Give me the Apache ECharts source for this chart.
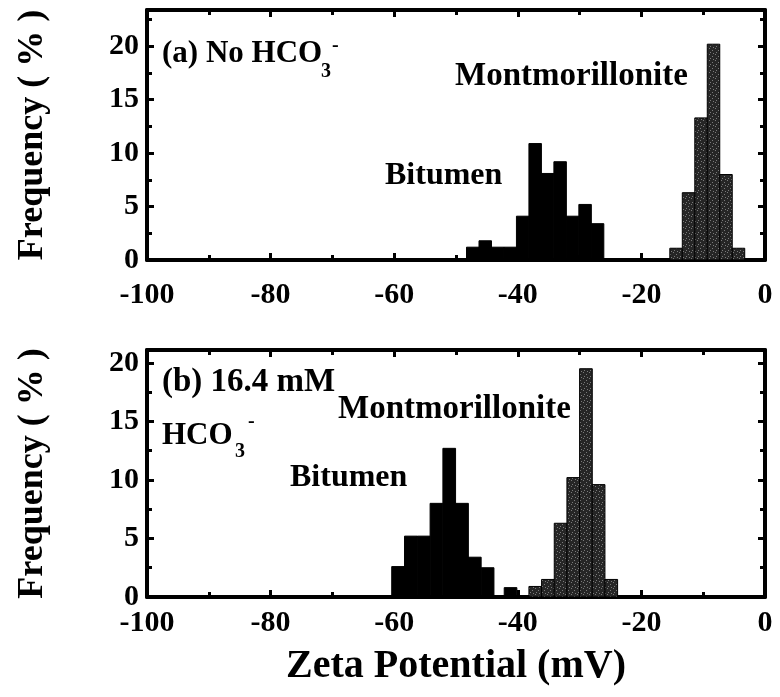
<!DOCTYPE html>
<html>
<head>
<meta charset="utf-8">
<script src="https://cdn.jsdelivr.net/npm/echarts@6/dist/echarts.min.js"></script>
<style>
  html, body { margin: 0; padding: 0; background: #fff; }
  #chart { width: 780px; height: 697px; }
</style>
</head>
<body>
<div id="chart"></div>
<script>
// panel (a): no HCO3-
const bitumenA_start = [-48.3, -46.28, -44.26, -42.24, -40.22, -38.2, -36.18, -34.16, -32.14, -30.12, -28.1];
const bitumenA_freq  = [1.2, 1.8, 1.2, 1.2, 4.1, 10.9, 8.1, 9.2, 4.1, 5.2, 3.4];
const montA_start = [-15.4, -13.38, -11.36, -9.34, -7.32, -5.3];
const montA_freq  = [1.1, 6.3, 13.3, 20.2, 8.0, 1.1];
const binWidthA = 2.02;

// panel (b): 16.4 mM HCO3-
const bitumenB_start = [-60.4, -58.33, -56.26, -54.19, -52.12, -50.05, -47.98, -45.91, -42.2];
const bitumenB_freq  = [2.6, 5.2, 5.2, 8.0, 12.7, 8.0, 3.4, 2.5, 0.8];
const montB_start = [-38.2, -36.15, -34.1, -32.05, -30.0, -27.95, -25.9];
const montB_freq  = [0.9, 1.5, 6.3, 10.2, 19.5, 9.6, 1.5];
const binWidthB = 2.05;

const xTicks = [-100, -80, -60, -40, -20, 0];
const yTicks = [0, 5, 10, 15, 20];

const FONT = "'Liberation Serif', 'Times New Roman', serif";

// speckled dark gray fill for montmorillonite
const pat = document.createElement('canvas');
pat.width = 6; pat.height = 6;
const pc = pat.getContext('2d');
pc.fillStyle = '#262626';
pc.fillRect(0, 0, 6, 6);
pc.fillStyle = '#7a7a7a';
[[1, 0], [4, 2], [2, 4], [5, 5]].forEach(p => pc.fillRect(p[0], p[1], 1, 1));

function toBins(starts, freqs, w) {
  return starts.map((s, i) => [s, s + w, freqs[i]]);
}

function histRender(fill) {
  return function (params, api) {
    const p0 = api.coord([api.value(0), api.value(2)]);
    const p1 = api.coord([api.value(1), 0]);
    return {
      type: 'rect',
      shape: { x: p0[0], y: p0[1], width: p1[0] - p0[0], height: p1[1] - p0[1] },
      style: { fill: fill, stroke: '#000', lineWidth: 1 }
    };
  };
}

const grids = [
  { left: 147, right: 15, top: 10, height: 250 },
  { left: 147, right: 15, top: 350, height: 247 }
];
const yMax = [23.4, 21.1];

const xAxes = [], yAxes = [];
grids.forEach((g, i) => {
  const lineStyle = { color: '#000', width: 4 };
  xAxes.push({
    type: 'value', gridIndex: i, min: -100, max: 0, interval: 20, position: 'bottom',
    axisLine: { show: true, onZero: false, lineStyle: lineStyle },
    axisTick: { inside: true, length: 7, lineStyle: { width: 3 } },
    minorTick: { show: true, splitNumber: 2, length: 5, lineStyle: { color: '#000', width: 3 } },
    splitLine: { show: false },
    axisLabel: {
      margin: i === 0 ? 20 : 11, fontFamily: FONT, fontWeight: 'bold', fontSize: 30, color: '#000',
      formatter: v => xTicks.indexOf(v) >= 0 ? String(v) : ''
    },
    name: i === 1 ? 'Zeta Potential (mV)' : '',
    nameLocation: 'middle', nameGap: 50,
    nameTextStyle: { fontFamily: FONT, fontWeight: 'bold', fontSize: 40, color: '#000' }
  });
  xAxes.push({
    type: 'value', gridIndex: i, min: -100, max: 0, interval: 20, position: 'top',
    axisLine: { show: true, onZero: false, lineStyle: lineStyle },
    axisTick: { inside: true, length: 7, lineStyle: { width: 3 } },
    minorTick: { show: true, splitNumber: 2, length: 5, lineStyle: { color: '#000', width: 3 } },
    splitLine: { show: false },
    axisLabel: { show: false }
  });
  yAxes.push({
    type: 'value', gridIndex: i, min: 0, max: yMax[i], interval: 5, position: 'left',
    axisLine: { show: true, onZero: false, lineStyle: lineStyle },
    axisTick: { inside: true, length: 7, lineStyle: { width: 3 } },
    minorTick: { show: true, splitNumber: 2, length: 5, lineStyle: { color: '#000', width: 3 } },
    splitLine: { show: false },
    axisLabel: {
      margin: 8, fontFamily: FONT, fontWeight: 'bold', fontSize: 30, color: '#000',
      formatter: v => yTicks.indexOf(v) >= 0 ? String(v) : ''
    },
    name: 'Frequency ( % )', nameLocation: 'middle', nameGap: 96, nameRotate: 90,
    nameTextStyle: { fontFamily: FONT, fontWeight: 'bold', fontSize: 36, color: '#000' }
  });
  yAxes.push({
    type: 'value', gridIndex: i, min: 0, max: yMax[i], interval: 5, position: 'right',
    axisLine: { show: true, onZero: false, lineStyle: lineStyle },
    axisTick: { inside: true, length: 7, lineStyle: { width: 3 } },
    minorTick: { show: true, splitNumber: 2, length: 5, lineStyle: { color: '#000', width: 3 } },
    splitLine: { show: false },
    axisLabel: { show: false }
  });
});

function txt(x, y, s, size) {
  return {
    type: 'text', left: x, top: y,
    style: { text: s, fontFamily: FONT, fontWeight: 'bold', fontSize: size, fill: '#000' }
  };
}

const chart = echarts.init(document.getElementById('chart'));
chart.setOption({
  backgroundColor: '#fff',
  animation: false,
  grid: grids,
  xAxis: xAxes,
  yAxis: yAxes,
  series: [
    { type: 'custom', name: 'Bitumen', xAxisIndex: 0, yAxisIndex: 0,
      renderItem: histRender('#000'), data: toBins(bitumenA_start, bitumenA_freq, binWidthA) },
    { type: 'custom', name: 'Montmorillonite', xAxisIndex: 0, yAxisIndex: 0,
      renderItem: histRender({ image: pat, repeat: 'repeat' }), data: toBins(montA_start, montA_freq, binWidthA) },
    { type: 'custom', name: 'Bitumen', xAxisIndex: 2, yAxisIndex: 2,
      renderItem: histRender('#000'), data: toBins(bitumenB_start, bitumenB_freq, binWidthB) },
    { type: 'custom', name: 'Montmorillonite', xAxisIndex: 2, yAxisIndex: 2,
      renderItem: histRender({ image: pat, repeat: 'repeat' }), data: toBins(montB_start, montB_freq, binWidthB) }
  ],
  graphic: [
    txt(162, 38, '(a) No HCO', 31),
    txt(321, 62, '3', 20),
    txt(332, 36, '-', 20),
    txt(455, 60, 'Montmorillonite', 33),
    txt(385, 160, 'Bitumen', 32),
    txt(162, 366, '(b) 16.4 mM', 33),
    txt(162, 420, 'HCO', 31),
    txt(235, 442, '3', 20),
    txt(248, 412, '-', 20),
    txt(338, 393, 'Montmorillonite', 33),
    txt(290, 462, 'Bitumen', 32)
  ]
});
</script>
</body>
</html>
